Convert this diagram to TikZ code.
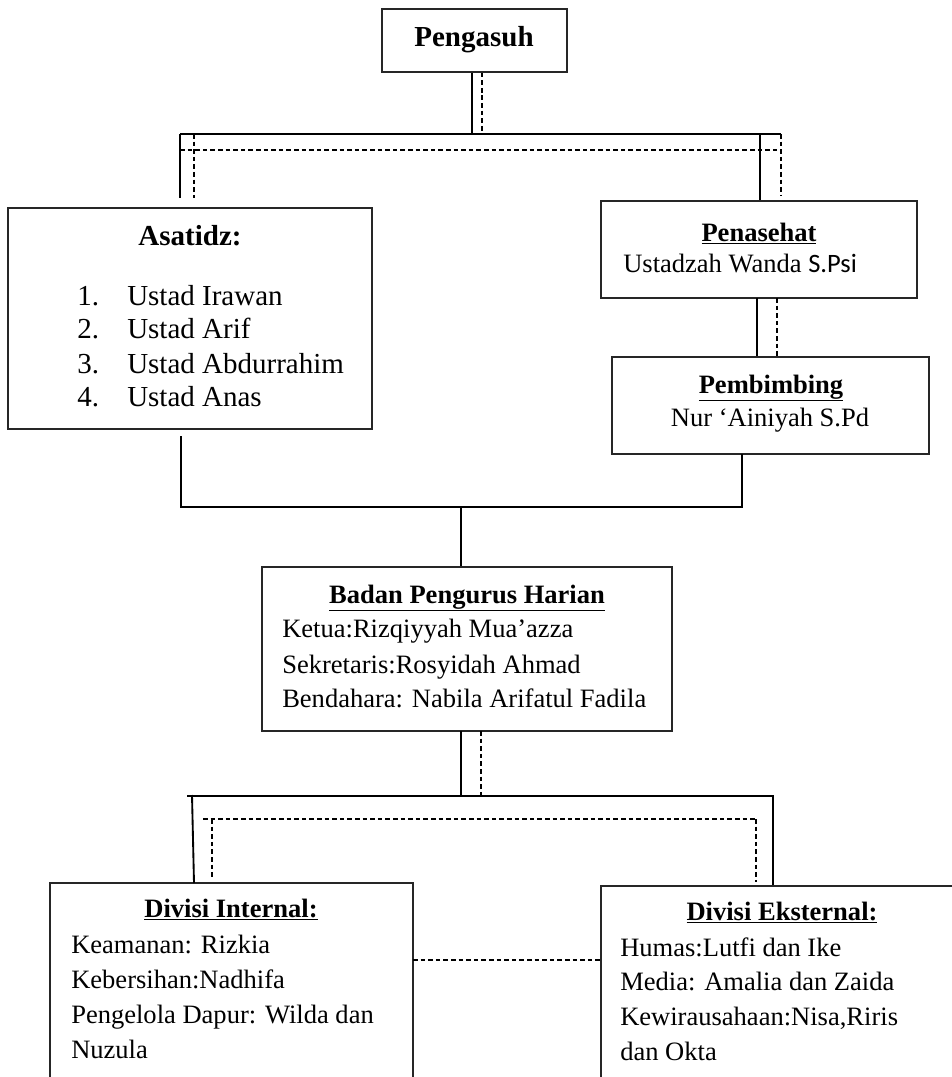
\documentclass[tikz,border=0pt]{standalone}
\usepackage{fontspec}
\setmainfont{Liberation Serif}
\newfontfamily\calib{Carlito}
\usetikzlibrary{fit,calc}
\newcommand\fbody{\fontsize{19.9}{24}\selectfont}
\newcommand\fbig{\fontsize{21.75}{26}\selectfont}
\tikzset{
  box/.style={draw=black!85, line width=1pt, inner sep=0pt},
  conn/.style={line width=1.4pt, black},
  dconn/.style={line width=1.1pt, black, dash pattern=on 3.5pt off 2.2pt},
  txt/.style={inner sep=0pt, anchor=base west, font=\fbody},
  ctxt/.style={inner sep=0pt, anchor=base, font=\fbody},
  ttl/.style={inner sep=0pt, anchor=base, font=\fbody\bfseries},
}
\begin{document}
\begin{tikzpicture}[x=0.75pt,y=-0.75pt]
\useasboundingbox (0,0) rectangle (952,1077);
\clip (0,0) rectangle (952,1077);

% ---------- boxes ----------
\node[box, fit={(382,9)(567,72)}] (peng) {};
\node[ttl, font=\fbig\bfseries] (pengT) at (474,47) {Pengasuh};

\node[box, fit={(8,208)(372,429)}] (asa) {};
\node[ttl, font=\fbig\bfseries] (asaT) at (190,245) {Asatidz:};
\node[txt, font=\fbig] (n1) at (77,305) {1.};
\node[txt, font=\fbig] (u1) at (127,305) {Ustad Irawan};
\node[txt, font=\fbig] (n2) at (77,338) {2.};
\node[txt, font=\fbig] (u2) at (127,338) {Ustad Arif};
\node[txt, font=\fbig] (n3) at (77,373) {3.};
\node[txt, font=\fbig] (u3) at (127,373) {Ustad Abdurrahim};
\node[txt, font=\fbig] (n4) at (77,406) {4.};
\node[txt, font=\fbig] (u4) at (127,406) {Ustad Anas};

\node[box, fit={(601,201)(917,298)}] (pen) {};
\node[ttl] (penT) at (759,241) {\underline{Penasehat}};
\node[txt] (penN) at (623,272) {Ustadzah Wanda {\calib S.Psi}};

\node[box, fit={(612,357)(929,454)}] (pem) {};
\node[ttl] (pemT) at (771,393) {\underline{Pembimbing}};
\node[ctxt] (pemN) at (770,426) {Nur ‘Ainiyah S.Pd};

\node[box, fit={(262,567)(672,731)}] (bph) {};
\node[ttl] (bphT) at (467,603) {\underline{Badan Pengurus Harian}};
\node[txt] (b1) at (282,637) {Ketua:Rizqiyyah Mua’azza};
\node[txt] (b2) at (282,673) {Sekretaris:Rosyidah Ahmad};
\node[txt] (b3) at (282,707) {Bendahara: Nabila Arifatul Fadila};

\node[box, fit={(50,883)(413,1100)}] (din) {};
\node[ttl] (dinT) at (231,917) {\underline{Divisi Internal:}};
\node[txt] (i1) at (71,953) {Keamanan: Rizkia};
\node[txt] (i2) at (71,988) {Kebersihan:Nadhifa};
\node[txt] (i3) at (71,1023) {Pengelola Dapur: Wilda dan};
\node[txt] (i4) at (71,1058) {Nuzula};

\node[box, fit={(601,886)(975,1100)}] (dex) {};
\node[ttl] (dexT) at (782,920) {\underline{Divisi Eksternal:}};
\node[txt] (e1) at (620,956) {Humas:Lutfi dan Ike};
\node[txt] (e2) at (620,990) {Media: Amalia dan Zaida};
\node[txt] (e3) at (620,1025) {Kewirausahaan:Nisa,Riris};
\node[txt] (e4) at (620,1060) {dan Okta};

% ---------- top connectors ----------
\coordinate (tL) at (180,134);
\coordinate (tR) at (781,134);
\coordinate (dL) at (180,150);
\coordinate (dR) at (781,150);
\coordinate (p1) at ($(peng.south)+(-2.5,0)$);
\coordinate (p2) at ($(peng.south)+(7.5,0)$);
\draw[conn] (p1) -- (p1 |- tL);
\draw[dconn] (p2) -- (p2 |- tL);
\draw[conn] (tL) -- (tR);
\draw[dconn] (dL) -- (dR);
\coordinate (aL1) at (180,198);
\coordinate (aL2) at (194,198);
\draw[conn] (tL) -- (aL1);
\draw[dconn] (aL2 |- tL) -- (aL2);
\coordinate (pR1) at (760,134);
\draw[conn] (pR1) -- (pR1 |- pen.north);
\coordinate (pR2) at (781,196);
\draw[dconn] (tR) -- (pR2);

% ---------- Penasehat to Pembimbing ----------
\coordinate (q1) at (757,298);
\coordinate (q2) at (777,298);
\draw[conn] (q1) -- (q1 |- pem.north);
\draw[dconn] (q2) -- (q2 |- pem.north);

% ---------- middle bus ----------
\coordinate (mL) at (181,436);
\coordinate (mLb) at (181,507);
\coordinate (mR) at (742,454);
\coordinate (mRb) at (742,507);
\coordinate (mC) at (461,507);
\draw[conn] (mL) -- (mLb) -- (mRb) -- (mR);
\draw[conn] (mC) -- (mC |- bph.north);

% ---------- BPH to divisions ----------
\coordinate (c1) at (461,731);
\coordinate (c2) at (481,731);
\coordinate (bL) at (187,796);
\coordinate (bR) at (774,796);
\draw[conn] (c1) -- (c1 |- bL);
\draw[dconn] (c2) -- (c2 |- bL);
\draw[conn] (bL) -- (bR);
\coordinate (lv) at (192,795);
\coordinate (lvb) at (194,883);
\draw[conn] (lv) -- (lvb);
\coordinate (rv) at (773,796);
\draw[conn] (rv) -- (rv |- dex.north);
\coordinate (dbL) at (203,819);
\coordinate (dbR) at (757,819);
\draw[dconn] (dbL) -- (dbR);
\coordinate (dl1) at (212,819);
\coordinate (dl2) at (212,878);
\draw[dconn] (dl1) -- (dl2);
\coordinate (dr1) at (756,819);
\coordinate (dr2) at (756,882);
\draw[dconn] (dr1) -- (dr2);
\coordinate (h1) at (413,960);
\draw[dconn] (h1) -- (h1 -| dex.west);
\end{tikzpicture}
\end{document}
